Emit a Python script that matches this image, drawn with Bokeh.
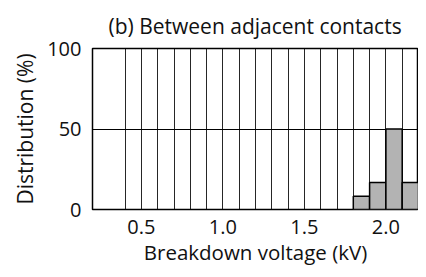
from bokeh.plotting import figure
from bokeh.models import FixedTicker, Range1d, Title
from bokeh.embed import file_html
from bokeh.resources import INLINE

# Data
bin_left = [1.8, 1.9, 2.0, 2.1]
bin_right = [1.9, 2.0, 2.1, 2.2]
distribution = [8.3, 16.7, 50.0, 16.7]
grid_x = [0.4, 0.5, 0.6, 0.7, 0.8, 0.9, 1.0, 1.1, 1.2, 1.3, 1.4, 1.5,
          1.6, 1.7, 1.8, 1.9, 2.0, 2.1]
x_ticks = [0.5, 1.0, 1.5, 2.0]
y_ticks = [0, 50, 100]
title_text = "(b) Between adjacent contacts"
x_label = "Breakdown voltage (kV)"
y_label = "Distribution (%)"

FONT = "Open Sans"

p = figure(output_backend="svg", toolbar_location=None,
           frame_width=326, frame_height=161,
           min_border_left=92, min_border_top=48, min_border_bottom=55,
           min_border_right=0,
           x_range=Range1d(0.2, 2.2), y_range=Range1d(0, 100))

p.add_layout(Title(text=title_text, text_font=FONT, text_font_size="21px",
                   text_font_style="normal", align="left", offset=16,
                   standoff=18, text_color="#111111"), "above")

p.quad(left=bin_left, right=bin_right, bottom=0, top=distribution,
       fill_color="#b3b3b3", line_color="black", line_width=1.5)

p.outline_line_color = "black"
p.outline_line_width = 1.5

p.xgrid.ticker = FixedTicker(ticks=grid_x)
p.xgrid.grid_line_color = "black"
p.xgrid.grid_line_width = 1
p.xgrid.grid_line_alpha = 0.85
p.ygrid.ticker = FixedTicker(ticks=[50])
p.ygrid.grid_line_color = "black"
p.ygrid.grid_line_width = 1

for ax in (p.xaxis[0], p.yaxis[0]):
    ax.axis_line_color = None
    ax.major_tick_line_color = None
    ax.minor_tick_line_color = None
    ax.major_label_text_font = FONT
    ax.major_label_text_font_size = "20px"
    ax.major_label_text_color = "#111111"
    ax.axis_label_text_font = FONT
    ax.axis_label_text_font_size = "20.5px"
    ax.axis_label_text_font_style = "normal"
    ax.axis_label_text_color = "#111111"

p.xaxis.ticker = FixedTicker(ticks=x_ticks)
p.xaxis.major_label_overrides = {0.5: "0.5", 1.0: "1.0", 1.5: "1.5", 2.0: "2.0"}
p.xaxis.axis_label = x_label
p.xaxis.major_label_standoff = 4
p.xaxis.axis_label_standoff = 1

p.yaxis.ticker = FixedTicker(ticks=y_ticks)
p.yaxis.axis_label = y_label
p.yaxis.axis_label_text_font_size = "21px"
p.yaxis.major_label_standoff = 5
p.yaxis.axis_label_standoff = 5

open("out.html", "w").write(file_html(p, INLINE))
